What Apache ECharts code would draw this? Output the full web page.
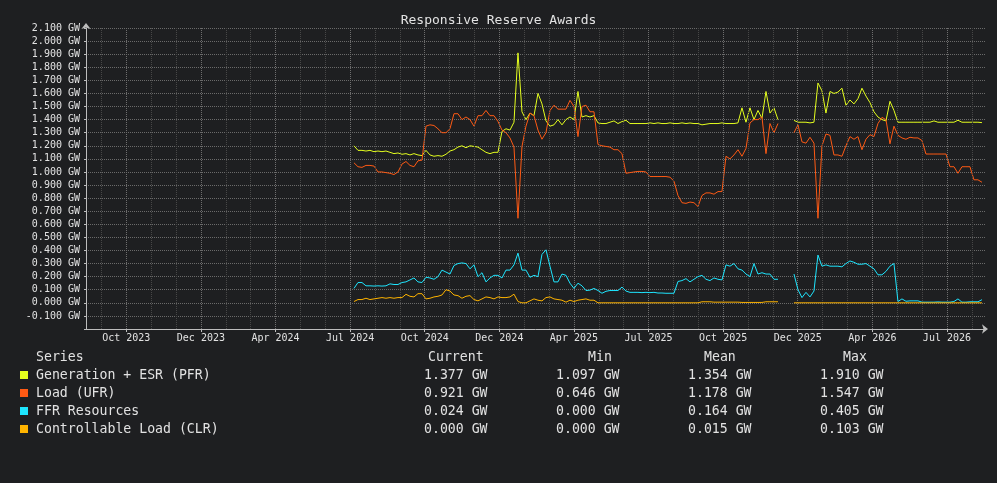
<!DOCTYPE html>
<html>
<head>
<meta charset="utf-8">
<title>Responsive Reserve Awards</title>
<script src="https://cdn.jsdelivr.net/npm/echarts@6/dist/echarts.min.js"></script>
<style>
  html, body { margin: 0; padding: 0; background: #1e1f21; }
  #chart { width: 997px; height: 483px; }
</style>
</head>
<body>
<div id="chart"></div>
<script>
// x is counted in months from Jul 2023; one sample roughly every 5 days
const START_MONTH = 12.156;
const STEP_MONTHS = 0.16084;

const TICK_MONTHS = [3, 6, 9, 12, 15, 18, 21, 24, 27, 30, 33, 36];
const TICK_LABELS = ["Oct 2023", "Dec 2023", "Apr 2024", "Jul 2024", "Oct 2024", "Dec 2024",
  "Apr 2025", "Jul 2025", "Oct 2025", "Dec 2025", "Apr 2026", "Jul 2026"];

const SERIES_NAMES = ["Generation + ESR (PFR)", "Load (UFR)", "FFR Resources", "Controllable Load (CLR)"];
const SERIES_COLORS = ["#e5ff1e", "#ff5a14", "#1ee6ff", "#ffb400"];

const generation = [
  1.20, 1.165, 1.165, 1.16, 1.165, 1.155, 1.16, 1.155, 1.16, 1.15,
  1.14, 1.145, 1.135, 1.14, 1.13, 1.14, 1.13, 1.125, 1.165, 1.13,
  1.12, 1.125, 1.12, 1.135, 1.16, 1.17, 1.19, 1.20, 1.185, 1.20,
  1.195, 1.19, 1.17, 1.15, 1.14, 1.15, 1.15, 1.31, 1.33, 1.32,
  1.38, 1.91, 1.46, 1.40, 1.45, 1.43, 1.60, 1.52, 1.39, 1.35,
  1.36, 1.40, 1.36, 1.40, 1.42, 1.40, 1.615, 1.42, 1.43, 1.42,
  1.43, 1.375, 1.37, 1.37, 1.38, 1.39, 1.37, 1.385, 1.395, 1.37,
  1.37, 1.37, 1.37, 1.37, 1.375, 1.37, 1.375, 1.37, 1.37, 1.375,
  1.37, 1.37, 1.375, 1.37, 1.374, 1.37, 1.37, 1.36, 1.365, 1.37,
  1.37, 1.37, 1.375, 1.37, 1.37, 1.37, 1.375, 1.49, 1.38, 1.49,
  1.40, 1.47, 1.41, 1.615, 1.45, 1.49, 1.40, null, null, null,
  1.394, 1.38, 1.38, 1.38, 1.375, 1.38, 1.68, 1.62, 1.45, 1.615,
  1.60, 1.61, 1.64, 1.51, 1.55, 1.52, 1.56, 1.64, 1.58, 1.53,
  1.46, 1.42, 1.40, 1.39, 1.54, 1.47, 1.38, 1.38, 1.38, 1.38,
  1.38, 1.38, 1.38, 1.38, 1.38, 1.39, 1.38, 1.38, 1.38, 1.38,
  1.38, 1.395, 1.38, 1.38, 1.38, 1.38, 1.38, 1.377
];

const load = [
  1.07, 1.04, 1.035, 1.05, 1.05, 1.045, 1.00, 1.00, 0.995, 0.99,
  0.98, 1.00, 1.06, 1.08, 1.05, 1.04, 1.085, 1.09, 1.35, 1.36,
  1.355, 1.33, 1.30, 1.30, 1.33, 1.445, 1.445, 1.40, 1.42, 1.40,
  1.35, 1.43, 1.43, 1.47, 1.43, 1.43, 1.386, 1.32, 1.30, 1.26,
  1.19, 0.646, 1.195, 1.35, 1.45, 1.43, 1.32, 1.25, 1.30, 1.47,
  1.51, 1.48, 1.48, 1.48, 1.547, 1.50, 1.27, 1.50, 1.51, 1.46,
  1.46, 1.21, 1.20, 1.195, 1.19, 1.17, 1.17, 1.14, 0.99, 0.995,
  1.00, 1.004, 1.004, 1.00, 0.965, 0.965, 0.965, 0.965, 0.965, 0.96,
  0.93, 0.82, 0.765, 0.76, 0.77, 0.765, 0.736, 0.82, 0.84, 0.84,
  0.83, 0.85, 0.85, 1.12, 1.10, 1.13, 1.17, 1.12, 1.18, 1.375,
  1.40, 1.40, 1.42, 1.14, 1.37, 1.30, 1.37, null, null, null,
  1.30, 1.36, 1.23, 1.22, 1.265, 1.22, 0.646, 1.20, 1.29, 1.28,
  1.13, 1.13, 1.12, 1.20, 1.27, 1.25, 1.27, 1.17, 1.25, 1.285,
  1.27, 1.37, 1.417, 1.40, 1.215, 1.35, 1.28, 1.26, 1.25, 1.265,
  1.26, 1.26, 1.24, 1.137, 1.137, 1.137, 1.137, 1.137, 1.137, 1.04,
  1.04, 0.99, 1.04, 1.04, 1.04, 0.94, 0.94, 0.921
];

const ffr = [
  0.11, 0.155, 0.155, 0.13, 0.13, 0.128, 0.13, 0.128, 0.13, 0.145,
  0.14, 0.14, 0.155, 0.16, 0.175, 0.19, 0.16, 0.155, 0.195, 0.19,
  0.18, 0.20, 0.25, 0.235, 0.22, 0.285, 0.30, 0.305, 0.30, 0.26,
  0.29, 0.20, 0.23, 0.16, 0.19, 0.21, 0.21, 0.19, 0.25, 0.25,
  0.29, 0.38, 0.25, 0.25, 0.195, 0.21, 0.20, 0.37, 0.405, 0.28,
  0.16, 0.16, 0.22, 0.21, 0.15, 0.11, 0.15, 0.13, 0.094, 0.097,
  0.11, 0.094, 0.073, 0.088, 0.094, 0.094, 0.094, 0.12, 0.09, 0.08,
  0.08, 0.08, 0.078, 0.08, 0.078, 0.08, 0.075, 0.075, 0.073, 0.073,
  0.073, 0.163, 0.17, 0.185, 0.16, 0.18, 0.20, 0.21, 0.18, 0.17,
  0.19, 0.18, 0.175, 0.29, 0.28, 0.30, 0.26, 0.25, 0.22, 0.20,
  0.30, 0.22, 0.23, 0.22, 0.22, 0.18, 0.18, null, null, null,
  0.22, 0.10, 0.04, 0.08, 0.045, 0.09, 0.365, 0.28, 0.29, 0.28,
  0.28, 0.28, 0.275, 0.30, 0.32, 0.31, 0.295, 0.295, 0.30, 0.28,
  0.26, 0.214, 0.214, 0.24, 0.28, 0.30, 0.01, 0.03, 0.012, 0.015,
  0.015, 0.015, 0.005, 0.005, 0.005, 0.005, 0.007, 0.005, 0.005, 0.005,
  0.01, 0.03, 0.005, 0.005, 0.008, 0.008, 0.008, 0.024
];

const clr = [
  0.01, 0.025, 0.025, 0.035, 0.025, 0.03, 0.035, 0.04, 0.035, 0.04,
  0.035, 0.04, 0.04, 0.065, 0.05, 0.045, 0.07, 0.07, 0.03, 0.035,
  0.045, 0.05, 0.06, 0.10, 0.09, 0.06, 0.055, 0.035, 0.05, 0.055,
  0.025, 0.015, 0.03, 0.045, 0.04, 0.03, 0.045, 0.04, 0.04, 0.045,
  0.066, 0.01, 0, 0, 0.015, 0.03, 0.02, 0.015, 0.04, 0.045,
  0.03, 0.025, 0.02, 0.005, 0.02, 0.01, 0.02, 0.025, 0.03, 0.02,
  0.02, 0, 0, 0, 0, 0, 0, 0, 0, 0,
  0, 0, 0, 0, 0, 0, 0, 0, 0, 0,
  0, 0, 0, 0, 0, 0, 0, 0.008, 0.008, 0.008,
  0.005, 0.005, 0.005, 0.005, 0.005, 0.005, 0.005, 0.003, 0.003, 0.003,
  0.003, 0.003, 0.003, 0.008, 0.008, 0.008, 0.008, null, null, null,
  0, 0, 0, 0, 0, 0, 0, 0, 0, 0,
  0, 0, 0, 0, 0, 0, 0, 0, 0, 0,
  0, 0, 0, 0, 0, 0, 0, 0, 0, 0,
  0, 0, 0, 0, 0, 0, 0, 0, 0, 0,
  0, 0, 0, 0, 0, 0, 0, 0
];

// legend table figures as printed under the chart
const CURRENT = ["1.377 GW", "0.921 GW", "0.024 GW", "0.000 GW"];
const MINIMUM = ["1.097 GW", "0.646 GW", "0.000 GW", "0.000 GW"];
const MEAN = ["1.354 GW", "1.178 GW", "0.164 GW", "0.015 GW"];
const MAXIMUM = ["1.910 GW", "1.547 GW", "0.405 GW", "0.103 GW"];

document.addEventListener("DOMContentLoaded", function () {
  const chart = echarts.init(document.getElementById("chart"), null, { renderer: "canvas" });
  const mono = "DejaVu Sans Mono";
  const textColor = "#e2e2e2";

  function toPoints(values) {
    return values.map((v, i) => [START_MONTH + i * STEP_MONTHS, v === null ? "-" : v]);
  }

  // vertical grid: one dotted line per month, brighter ones per quarter
  const gridLines = [];
  for (let m = 2; m <= 37; m++) {
    const major = TICK_MONTHS.indexOf(m) >= 0;
    gridLines.push({
      xAxis: m,
      lineStyle: { color: major ? "#6e6e6e" : "#474747", type: [1, 1], width: 1 },
    });
  }

  const dataSeries = [generation, load, ffr, clr].map((values, k) => ({
    name: SERIES_NAMES[k],
    type: "line",
    data: toPoints(values),
    symbol: "none",
    showSymbol: false,
    connectNulls: false,
    z: 3 + k,
    lineStyle: { width: 1, color: SERIES_COLORS[k] },
    itemStyle: { color: SERIES_COLORS[k] },
  }));

  // legend table below the plot
  const graphics = [];
  const headerY = 358;
  const rowGap = 18;
  const cols = [
    { head: "Current", headX: 428, valX: 424, vals: CURRENT },
    { head: "Min", headX: 588, valX: 556, vals: MINIMUM },
    { head: "Mean", headX: 704, valX: 688, vals: MEAN },
    { head: "Max", headX: 843, valX: 820, vals: MAXIMUM },
  ];
  const font = "13.2px " + mono;
  graphics.push({ type: "text", style: { text: "Series", x: 36, y: headerY, font: font, fill: textColor, verticalAlign: "middle" } });
  cols.forEach((c) => {
    graphics.push({ type: "text", style: { text: c.head, x: c.headX, y: headerY, font: font, fill: textColor, verticalAlign: "middle" } });
  });
  SERIES_NAMES.forEach((name, k) => {
    const y = headerY + rowGap * (k + 1);
    graphics.push({ type: "rect", shape: { x: 20, y: y - 5, width: 8, height: 8 }, style: { fill: SERIES_COLORS[k] } });
    graphics.push({ type: "text", style: { text: name, x: 36, y: y, font: font, fill: textColor, verticalAlign: "middle" } });
    cols.forEach((c) => {
      graphics.push({ type: "text", style: { text: c.vals[k], x: c.valX, y: y, font: font, fill: textColor, verticalAlign: "middle" } });
    });
  });

  const option = {
    animation: false,
    backgroundColor: "#1e1f21",
    title: {
      text: "Responsive Reserve Awards",
      left: "center",
      top: 9,
      textStyle: { fontFamily: mono, fontSize: 13, fontWeight: "normal", color: textColor },
    },
    grid: { left: 86, right: 12, top: 28, bottom: 154, containLabel: false },
    xAxis: {
      type: "value",
      min: 1.38,
      max: 37.53,
      axisLine: {
        show: true,
        onZero: false,
        lineStyle: { color: "#bdbdbd", width: 1 },
        symbol: ["none", "arrow"],
        symbolSize: [7, 6],
        symbolOffset: [0, 3],
      },
      axisTick: { show: true, customValues: TICK_MONTHS, length: 3, lineStyle: { color: "#bdbdbd" } },
      axisLabel: {
        customValues: TICK_MONTHS,
        margin: 4,
        color: textColor,
        fontFamily: mono,
        fontSize: 10,
        formatter: function (v) {
          const i = TICK_MONTHS.indexOf(Math.round(v));
          return i >= 0 ? TICK_LABELS[i] : "";
        },
      },
      splitLine: { show: false },
    },
    yAxis: {
      type: "value",
      min: -0.2,
      max: 2.1,
      interval: 0.1,
      axisLine: {
        show: true,
        onZero: false,
        lineStyle: { color: "#bdbdbd", width: 1 },
        symbol: ["none", "arrow"],
        symbolSize: [7, 6],
        symbolOffset: [0, 5],
      },
      axisTick: { show: true, length: 2, lineStyle: { color: "#bdbdbd" } },
      axisLabel: {
        margin: 6,
        color: textColor,
        fontFamily: mono,
        fontSize: 10,
        formatter: function (v) {
          return v < -0.15 ? "" : v.toFixed(3) + " GW";
        },
      },
      splitLine: { show: true, lineStyle: { color: "#6a6a6a", type: [1, 1], width: 1 } },
    },
    graphic: graphics,
    series: [
      {
        name: "grid",
        type: "line",
        data: [],
        z: 1,
        silent: true,
        markLine: {
          silent: true,
          symbol: ["none", "none"],
          label: { show: false },
          animation: false,
          data: gridLines,
        },
      },
    ].concat(dataSeries),
  };
  chart.setOption(option);

  window.addEventListener("resize", function () {
    chart.resize();
  });
});
</script>
</body>
</html>
